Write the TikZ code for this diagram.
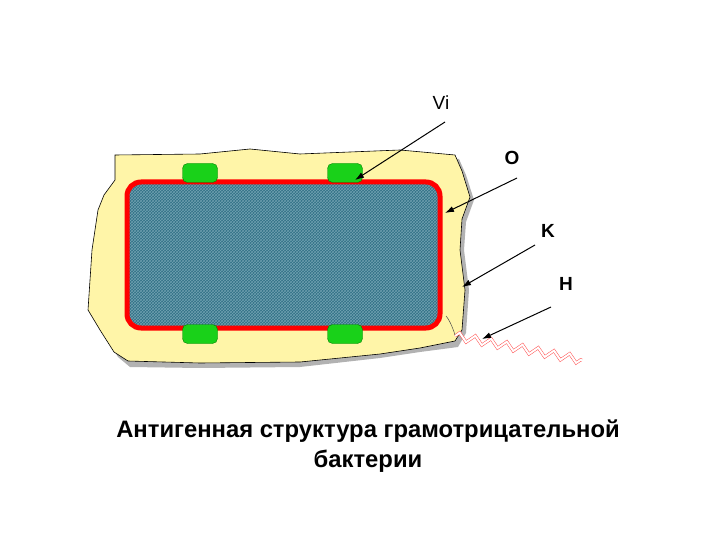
\documentclass[tikz,border=0pt]{standalone}
\usepackage{fontspec}
\setmainfont{Liberation Sans}
\usetikzlibrary{patterns,decorations.pathmorphing,arrows.meta}
\begin{document}
\begin{tikzpicture}[x=1pt,y=-1pt,
  lbl/.style={font=\bfseries\fontsize{19}{21}\selectfont},
  arr/.style={-{Latex[length=9pt,width=6pt]},line width=1pt},
  pill/.style={fill=green!80!black!90,draw=green!50!black,rounded corners=5pt}]
\useasboundingbox (0,0) rectangle (720,540);
% shadow
\fill[gray!60] (119,160) -- (200,158) -- (250,153) -- (300,158) -- (400,154) -- (459,159) -- (466,175) -- (474,200) -- (466,222) -- (464,250) -- (469,290) -- (466,333) -- (458,347) -- (420,352) -- (380,358) -- (300,367) -- (200,368) -- (130,367) -- (118,357) -- (104,335) -- (92,315) -- (96,250) -- (102,212) -- (108,198) -- (118,184) -- cycle;
% capsule
\path[fill=yellow!30!white!95!orange,draw=black,line width=0.6pt] (115,155) -- (200,154) -- (250,149) -- (300,154) -- (400,150) -- (455,155) -- (462,171) -- (470,197) -- (462,219) -- (460,250) -- (465,290) -- (462,330) -- (455,341) -- (420,348) -- (380,354) -- (300,362) -- (200,363) -- (128,361) -- (114,352) -- (100,330) -- (88,310) -- (92,250) -- (98,210) -- (104,195) -- (115,180) -- cycle;
% cell
\definecolor{cellc}{HTML}{2F6F85}
\definecolor{cellh}{HTML}{6FA0B0}
\fill[cellc] (127,182) [rounded corners=14pt] rectangle (440,328);
\fill[pattern=crosshatch, pattern color=cellh] (127,182) [rounded corners=14pt] rectangle (440,328);
\draw[red,line width=5pt,rounded corners=14pt] (127,182) rectangle (440,328);
% pills
\node[pill,minimum width=35pt,minimum height=19pt] (p1) at (200,173) {};
\node[pill,minimum width=35pt,minimum height=19pt] (p2) at (345,173) {};
\node[pill,minimum width=35pt,minimum height=19pt] (p3) at (200,334) {};
\node[pill,minimum width=35pt,minimum height=19pt] (p4) at (345,334) {};
% flagellum
\coordinate (f0) at (455,336);
\coordinate (f1) at (582,360);
\draw[red!60!pink,double=white,line width=0.5pt,double distance=2pt,decorate,decoration={zigzag,amplitude=4pt,segment length=16pt}] (f0) -- (f1);
\draw[black!70,line width=0.5pt] (455,335) .. controls (452,325) and (448,318) .. (446,316);
% labels
\node[lbl,font=\fontsize{19}{21}\selectfont] (vi) at (441,103) {Vi};
\node[lbl] (o) at (512,158) {O};
\node[lbl] (k) at (548,231) {K};
\node[lbl] (h) at (566,284) {H};
\coordinate (vs) at (445,122); \coordinate (ve) at (355,180);
\coordinate (os) at (517,178); \coordinate (oe) at (445,213);
\coordinate (ks) at (535,245); \coordinate (ke) at (462,287);
\coordinate (hs) at (551,307); \coordinate (he) at (482,339);
\draw[arr] (vs) -- (ve);
\draw[arr] (os) -- (oe);
\draw[arr] (ks) -- (ke);
\draw[arr] (hs) -- (he);
\node[font=\bfseries\fontsize{23.8}{30}\selectfont,align=center] (t) at (368,446) {Антигенная структура грамотрицательной\\бактерии};
\end{tikzpicture}
\end{document}
